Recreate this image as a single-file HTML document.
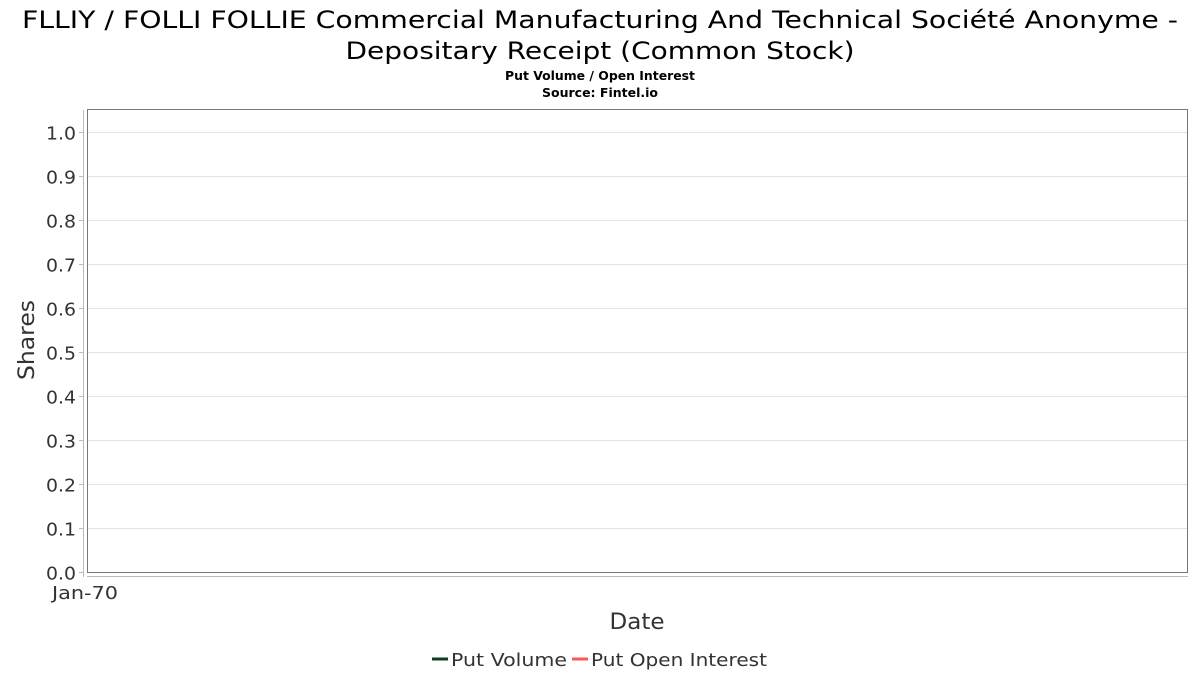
<!DOCTYPE html>
<html><head><meta charset="utf-8"><style>
body{margin:0;background:#fff;font-family:"DejaVu Sans","Liberation Sans",sans-serif;}
svg{display:block}
</style></head><body>
<svg width="1200" height="675" viewBox="0 0 1200 675" xmlns="http://www.w3.org/2000/svg" font-family="DejaVu Sans, Liberation Sans, sans-serif">
<text x="600" y="28" text-anchor="middle" font-size="24" fill="#000" textLength="1156" lengthAdjust="spacingAndGlyphs">FLLIY / FOLLI FOLLIE Commercial Manufacturing And Technical Société Anonyme -</text>
<text x="600" y="59" text-anchor="middle" font-size="24" fill="#000" textLength="509" lengthAdjust="spacingAndGlyphs">Depositary Receipt (Common Stock)</text>
<text x="600" y="80" text-anchor="middle" font-size="12" font-weight="bold" fill="#000" textLength="190" lengthAdjust="spacingAndGlyphs">Put Volume / Open Interest</text>
<text x="600" y="97" text-anchor="middle" font-size="12" font-weight="bold" fill="#000" textLength="116" lengthAdjust="spacingAndGlyphs">Source: Fintel.io</text>
<rect x="87.5" y="109.5" width="1100" height="463" fill="#fff" stroke="#777"/>
<g id="grid"></g>
<line x1="83.5" y1="110" x2="83.5" y2="577" stroke="#bbb"/>
<line x1="87" y1="576.5" x2="1188" y2="576.5" stroke="#bbb"/>
<g id="yticks"></g>
<text x="85" y="599" text-anchor="middle" font-size="18" fill="#333" textLength="66" lengthAdjust="spacingAndGlyphs">Jan-70</text>
<text x="34" y="340" text-anchor="middle" font-size="22" fill="#333" textLength="80" lengthAdjust="spacingAndGlyphs" transform="rotate(-90 34 340)">Shares</text>
<text x="637" y="629" text-anchor="middle" font-size="22" fill="#333" textLength="55" lengthAdjust="spacingAndGlyphs">Date</text>
<g>
<g>
<line x1="432" y1="659" x2="448" y2="659" stroke="#0b3d1e" stroke-width="3"/>
<text x="451" y="666" font-size="18" fill="#333" textLength="116" lengthAdjust="spacingAndGlyphs">Put Volume</text>
</g>
<g>
<line x1="572" y1="659" x2="588" y2="659" stroke="#ff5555" stroke-width="3"/>
<text x="591" y="666" font-size="18" fill="#333" textLength="176" lengthAdjust="spacingAndGlyphs">Put Open Interest</text>
</g>
</g>
</svg>
<script>
const yTicks=[0,0.1,0.2,0.3,0.4,0.5,0.6,0.7,0.8,0.9,1.0];
const yTickLabels=["0.0","0.1","0.2","0.3","0.4","0.5","0.6","0.7","0.8","0.9","1.0"];
const putVolume=[];
const putOpenInterest=[];
const NS="http://www.w3.org/2000/svg";
function yScale(v){return 572-v*440;}
const grid=document.getElementById('grid'),yt=document.getElementById('yticks');
yTicks.forEach((v,i)=>{
  const y=Math.round(yScale(v))+0.5;
  if(v>0){
    const g=document.createElementNS(NS,'line');
    
    
    g.setAttribute('x1',88);g.setAttribute('x2',1187);g.setAttribute('y1',y);g.setAttribute('y2',y);
    g.setAttribute('stroke','#e3e3e3');grid.appendChild(g);
  }
  const t=document.createElementNS(NS,'line');
  
  
  t.setAttribute('x1',79);t.setAttribute('x2',83);t.setAttribute('y1',y);t.setAttribute('y2',y);
  t.setAttribute('stroke','#bbb');yt.appendChild(t);
  const l=document.createElementNS(NS,'text');
  
  
  l.setAttribute('x',76);l.setAttribute('y',y+7);l.setAttribute('text-anchor','end');
  l.setAttribute('font-size','18');l.setAttribute('fill','#333');
  l.setAttribute('textLength','30');l.setAttribute('lengthAdjust','spacingAndGlyphs');
  l.textContent=yTickLabels[i];yt.appendChild(l);
});
</script>
</body></html>
